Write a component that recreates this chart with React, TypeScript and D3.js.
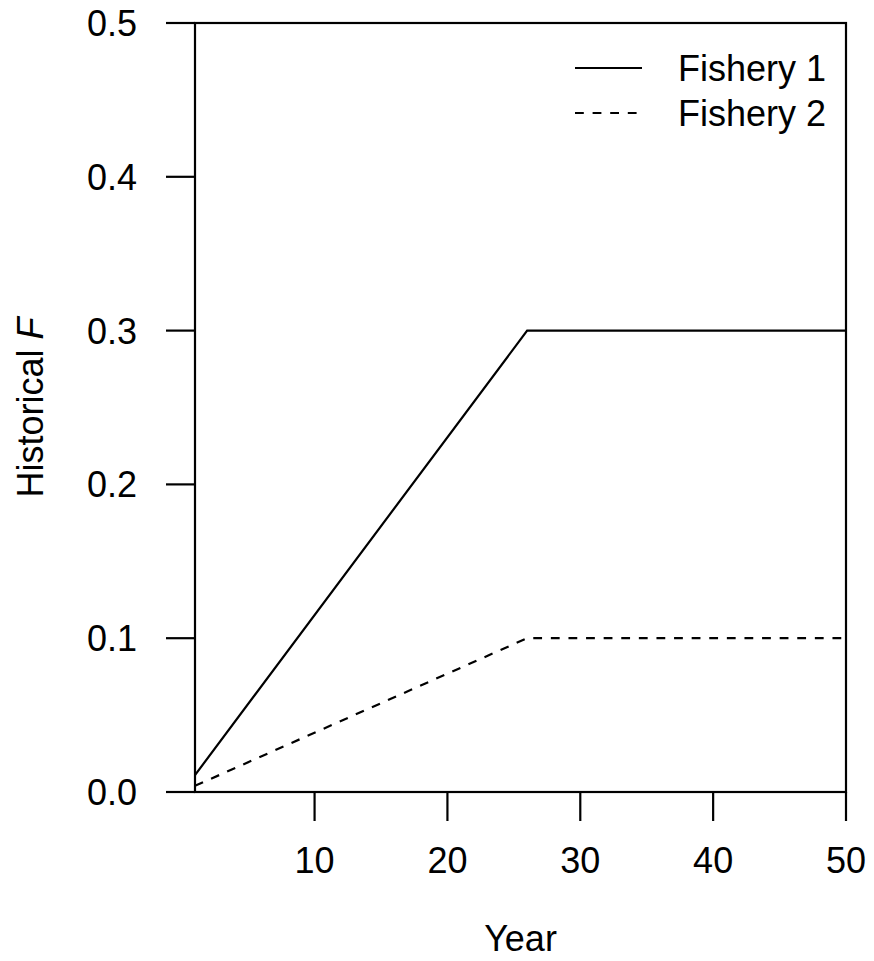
import React from "react";
import * as d3 from "d3";

const years = [1, 26, 50];
const fishery1 = [0.011, 0.3, 0.3];
const fishery2 = [0.004, 0.1, 0.1];
const xTicks = [10, 20, 30, 40, 50];
const yTicks = [0, 0.1, 0.2, 0.3, 0.4, 0.5];
const seriesNames = ["Fishery 1", "Fishery 2"];

const W = 874;
const H = 961;
const L = 195, R = 846, T = 23, B = 792;
const FONT = "'Liberation Sans', Arial, sans-serif";

export default function App() {
  const x = d3.scaleLinear().domain([1, 50]).range([L, R]);
  const y = d3.scaleLinear().domain([0, 0.5]).range([B, T]);
  const line = d3
    .line<number>()
    .x((_, i) => x(years[i]))
    .y((d) => y(d));
  const tick = 29;
  const sw = 2.2;
  return (
    <svg
      width={W}
      height={H}
      style={{ position: "absolute", left: 0, top: 0, background: "#fff" }}
      fontFamily={FONT}
    >
      <rect x={0} y={0} width={W} height={H} fill="#fff" />
      <path d={line(fishery1) || ""} fill="none" stroke="#000" strokeWidth={sw} />
      <path
        d={line(fishery2) || ""}
        fill="none"
        stroke="#000"
        strokeWidth={sw}
        strokeDasharray="8.8 8.8"
      />
      <rect x={L} y={T} width={R - L} height={B - T} fill="none" stroke="#000" strokeWidth={sw} />
      {yTicks.map((t) => (
        <g key={"y" + t}>
          <line x1={L - tick} x2={L} y1={y(t)} y2={y(t)} stroke="#000" strokeWidth={sw} />
          <text x={L - 58} y={y(t) + 13} textAnchor="end" fontSize={36}>
            {d3.format(".1f")(t)}
          </text>
        </g>
      ))}
      {xTicks.map((t) => (
        <g key={"x" + t}>
          <line x1={x(t)} x2={x(t)} y1={B} y2={B + tick} stroke="#000" strokeWidth={sw} />
          <text x={x(t)} y={B + 81} textAnchor="middle" fontSize={36}>
            {t}
          </text>
        </g>
      ))}
      <text x={(L + R) / 2} y={951} textAnchor="middle" fontSize={36}>
        Year
      </text>
      <text
        transform={`translate(43,${(T + B) / 2}) rotate(-90)`}
        textAnchor="middle"
        fontSize={36}
      >
        Historical <tspan fontStyle="italic">F</tspan>
      </text>
      {seriesNames.map((n, i) => (
        <g key={n}>
          <line
            x1={575}
            x2={642}
            y1={68 + i * 45}
            y2={68 + i * 45}
            stroke="#000"
            strokeWidth={sw}
            strokeDasharray={i === 1 ? "8.8 8.8" : undefined}
          />
          <text x={678} y={68 + i * 45 + 13} fontSize={36}>
            {n}
          </text>
        </g>
      ))}
    </svg>
  );
}
